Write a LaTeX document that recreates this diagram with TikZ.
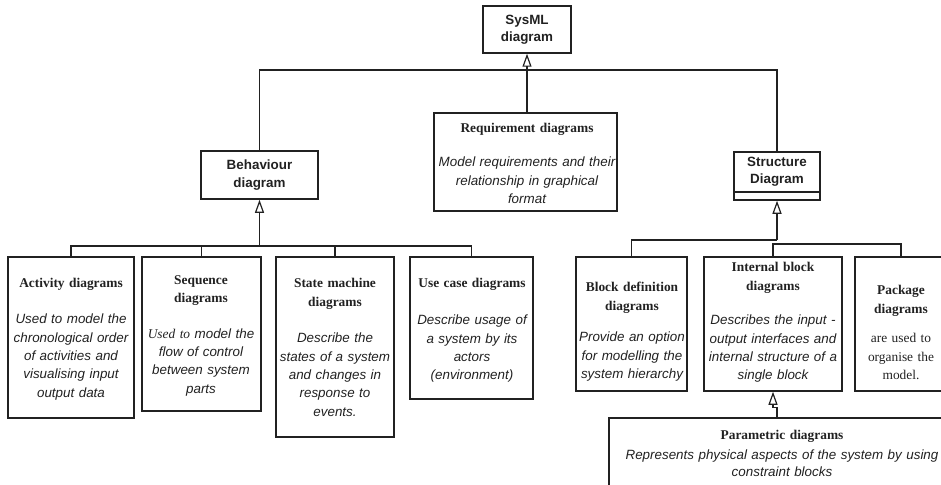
\documentclass[tikz,border=0pt]{standalone}
\usepackage{fontspec}
\setmainfont{Liberation Sans}
\newfontfamily\serfam{Liberation Serif}
\usetikzlibrary{arrows.meta}
\definecolor{ink}{gray}{0.13}
% title and description styles used inside the diagram boxes
\newcommand\boxtitle[1]{{\serfam\bfseries #1}}
\newcommand\boxdesc[1]{{\itshape #1}}
\begin{document}
\begin{tikzpicture}[x=1pt,y=-1pt,
  every node/.style={font=\fontsize{13.4}{18.3}\selectfont, text=ink},
  box/.style={draw=ink, line width=1.5pt, inner sep=0pt},
  topbox/.style={box, align=center, font=\fontsize{13.4}{17.5}\selectfont\bfseries},
  txt/.style={inner sep=0pt, align=center, anchor=north},
  wire/.style={draw=ink, line width=1.1pt},
  stem/.style={draw=ink, line width=1.7pt},
  gen/.style={-{Triangle[open, length=13pt, width=9pt, line width=1.2pt]}},
]
\useasboundingbox (0,0) rectangle (941,484);
\clip (0,0) rectangle (941,484);

% top level
\node[topbox, minimum width=88pt, minimum height=47pt] (sys) at (527,29.5) {SysML\\diagram};

% second level
\node[topbox, minimum width=117pt, minimum height=48pt] (bhv) at (259.5,175) {Behaviour\\diagram};
\node[box, minimum width=183pt, minimum height=98pt] (req) at (525.5,162) {};
\node[box, minimum width=86pt, minimum height=48pt] (str) at (777,176) {};
\draw[draw=ink, line width=1.5pt] (str.south west) ++(0,-9) -- ++(86,0);
\node[align=center, inner sep=0pt, font=\fontsize{13.4}{17.5}\selectfont\bfseries] (strT) at (777,171.5) {Structure\\Diagram};

% behaviour diagrams
\node[box, minimum width=126pt, minimum height=161pt] (act) at (71,337.5) {};
\node[box, minimum width=119pt, minimum height=154pt] (seq) at (201.5,334) {};
\node[box, minimum width=118pt, minimum height=180pt] (sm) at (335,347) {};
\node[box, minimum width=123pt, minimum height=142pt] (uc) at (471.5,328) {};

% structure diagrams
\node[box, minimum width=111pt, minimum height=134pt] (bd) at (631.5,324) {};
\node[box, minimum width=138pt, minimum height=134pt] (ib) at (773,324) {};
\node[box, minimum width=92pt, minimum height=134pt] (pk) at (901,324) {};
\node[box, minimum width=381pt, minimum height=100pt] (par) at (799.5,468) {};

% generalisation links
\draw[wire] (bhv.north) |- (str.north |- 0,70) -- (str.north);
\draw[wire, gen] (sys.south |- req.north) -- (sys.south);

\coordinate (bj) at (bhv.south |- 0,246);
\draw[stem, gen] (bj) -- (bhv.south);
\draw[wire] (act.north) |- (uc.north |- bj) -- (uc.north);
\draw[wire] (seq.north) -- (seq.north |- bj);
\draw[wire] (sm.north) -- (sm.north |- bj);

\coordinate (sj) at (str.south |- 0,240);
\draw[stem, gen] (sj) -- (str.south);
\draw[wire] (bd.north) |- (sj);
\draw[wire] (ib.north) |- (pk.north |- 0,244) -- (pk.north);

\path (ib.south |- par.north) ++(4,0) coordinate (pj);
\draw[wire, gen] (pj) -- ++(0,-10) -| (ib.south);

% box texts
\node[txt, text width=190pt] (reqT) at (527,123.3) {\boxtitle{Requirement diagrams}\\[15.7pt]
  \boxdesc{Model requirements and their\\relationship in graphical\\format}};

\node[txt, text width=132pt] (actT) at (71,278.3) {\boxtitle{Activity diagrams}\\[17.7pt]
  \boxdesc{Used to model the\\chronological order\\of activities and\\visualising input\\output data}};
\node[txt, text width=125pt] (seqT) at (201,275.3) {\boxtitle{Sequence\\diagrams}\\[17.4pt]
  {\serfam\itshape Used to} \boxdesc{model the\\flow of control\\between system\\parts}};
\node[txt, text width=125pt] (smT) at (335,278.3) {\boxtitle{State machine\\diagrams}\\[18.4pt]
  \boxdesc{Describe the\\states of a system\\and changes in\\response to\\events.}};
\node[txt, text width=130pt] (ucT) at (472,278.3) {\boxtitle{Use case diagrams}\\[18.7pt]
  \boxdesc{Describe usage of\\a system by its\\actors\\(environment)}};

\node[txt, text width=118pt] (bdT) at (632,282.3) {\boxtitle{Block definition\\diagrams}\\[13.4pt]
  \boxdesc{Provide an option\\for modelling the\\system hierarchy}};
\node[txt, text width=140pt] (ibT) at (773,262.3) {\boxtitle{Internal block\\diagrams}\\[16.4pt]
  \boxdesc{Describes the input -\\output interfaces and\\internal structure of a\\single block}};
\node[txt, text width=100pt] (pkT) at (901,285.3) {\boxtitle{Package\\diagrams}\\[11.4pt]
  {\serfam are used to\\organise the\\model.}};

\node[txt, text width=320pt] (parT) at (782,430.3) {\boxtitle{Parametric diagrams}\\[1.5pt]
  \boxdesc{Represents physical aspects of the system by using\\[-1.3pt]constraint blocks}};
\end{tikzpicture}
\end{document}
